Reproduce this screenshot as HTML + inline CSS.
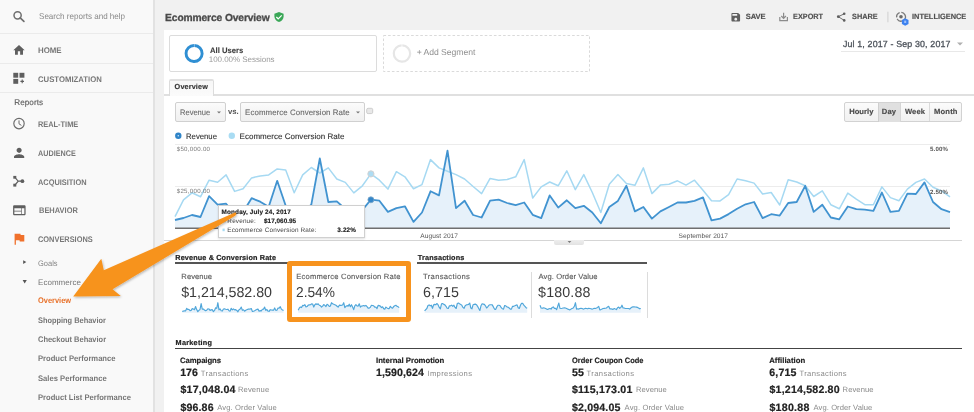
<!DOCTYPE html>
<html><head><meta charset="utf-8"><style>
*{margin:0;padding:0;box-sizing:border-box}
html,body{width:974px;height:412px;overflow:hidden;background:#fff}
body{position:relative;font-family:"Liberation Sans",Arial,sans-serif;text-rendering:geometricPrecision}
.t{position:absolute;white-space:nowrap;font-family:"Liberation Sans",Arial,sans-serif}
.a{position:absolute}
svg.ov{position:absolute;left:0;top:0}
</style></head><body>
<!-- sidebar -->
<div class="a" style="left:0;top:0;width:153px;height:412px;background:#f9f9f9"></div>
<div class="a" style="left:153px;top:0;width:2px;height:412px;background:#e2e2e2"></div>
<div class="a" style="left:0;top:33px;width:153px;height:1px;background:#ebebeb"></div>
<div class="a" style="left:0;top:63px;width:153px;height:1px;background:#ebebeb"></div>
<div class="a" style="left:0;top:92px;width:153px;height:1px;background:#ebebeb"></div>
<!-- main bg -->
<div class="a" style="left:155px;top:0;width:819px;height:412px;background:#f1f1f1"></div>
<div class="a" style="left:164px;top:30px;width:810px;height:382px;background:#fff"></div>
<!-- segment boxes -->
<div class="a" style="left:169px;top:35px;width:208px;height:37px;border:1px solid #dcdcdc;border-radius:2px;background:#fff"></div>
<div class="a" style="left:841px;top:51px;width:124px;height:1px;background:#e8e8e8"></div>
<!-- tab -->
<div class="a" style="left:164px;top:93.5px;width:810px;height:2px;background:#e0e0e0"></div>
<div class="a" style="left:169px;top:78.5px;width:45px;height:17.5px;border:1px solid #dcdcdc;border-top:2px solid #e0e0e0;border-bottom:none;background:linear-gradient(#f7f7f7,#fbfbfb);border-radius:2px 2px 0 0"></div>
<!-- dropdowns -->
<div class="a" style="left:175px;top:102px;width:51px;height:20px;border:1px solid #d0d0d0;border-radius:2px;background:linear-gradient(#fbfbfb,#f0f0f0)"></div>
<div class="a" style="left:240px;top:102px;width:125px;height:20px;border:1px solid #d0d0d0;border-radius:2px;background:linear-gradient(#fbfbfb,#f0f0f0)"></div>
<!-- hourly/day/week/month -->
<div class="a" style="left:844px;top:102px;width:118px;height:20px;border:1px solid #d2d2d2;border-radius:2px;background:linear-gradient(#fbfbfb,#f1f1f1)"></div>
<div class="a" style="left:878px;top:102.5px;width:23px;height:19px;background:#e0e0e0;border-left:1px solid #cfcfcf;border-right:1px solid #d6d6d6"></div>
<div class="a" style="left:929px;top:103px;width:1px;height:18px;background:#dadada"></div>
<!-- chart bottom -->
<div class="a" style="left:164px;top:240px;width:798px;height:1px;background:#d5d5d5"></div>
<div class="a" style="left:554.3px;top:240px;width:29.6px;height:4.8px;background:linear-gradient(#eeeeee,#e2e2e2);border-radius:0 0 2px 2px"></div>
<!-- scorecard headers -->
<div class="a" style="left:175px;top:262px;width:233px;height:1.6px;background:#555"></div>
<div class="a" style="left:417px;top:262px;width:230px;height:1.6px;background:#555"></div>
<div class="a" style="left:531px;top:272px;width:1px;height:46px;background:#dcdcdc"></div>
<div class="a" style="left:646.5px;top:272px;width:1px;height:46px;background:#dcdcdc"></div>
<div class="a" style="left:175px;top:347.8px;width:787px;height:1.4px;background:#444"></div>
<!-- orange box -->
<div class="a" style="left:287px;top:261px;width:124px;height:60.5px;border:5.8px solid #f7931e;border-radius:3px"></div>
<svg class="ov" width="974" height="412" viewBox="0 0 974 412">
<defs><filter id="sh" x="-10%" y="-10%" width="130%" height="140%"><feDropShadow dx="0.8" dy="1.2" stdDeviation="0.9" flood-color="#000" flood-opacity="0.28"/></filter></defs>

<line x1="175" y1="144.5" x2="950" y2="144.5" stroke="#ececec" stroke-width="1"/>
<line x1="175" y1="186.5" x2="950" y2="186.5" stroke="#ececec" stroke-width="1"/>
<path d="M175,228 L175.0,220.0 L183.5,218.0 L192.0,215.0 L200.5,217.0 L209.1,196.2 L217.6,204.7 L226.1,203.7 L234.6,214.0 L243.1,212.0 L251.6,198.2 L260.2,201.7 L268.7,206.7 L277.2,180.8 L285.7,205.7 L294.2,222.0 L302.7,212.0 L311.3,204.7 L319.8,158.5 L328.3,202.0 L336.8,201.4 L345.3,209.0 L353.8,215.0 L362.4,210.0 L370.9,199.6 L379.4,200.7 L387.9,211.9 L396.4,208.1 L404.9,206.3 L413.5,221.9 L422.0,212.5 L430.5,191.3 L439.0,195.4 L447.5,150.7 L456.0,208.1 L464.6,200.7 L473.1,215.0 L481.6,217.5 L490.1,200.7 L498.6,199.6 L507.1,203.0 L515.7,205.2 L524.2,202.5 L532.7,214.8 L541.2,218.1 L549.7,195.4 L558.2,207.6 L566.8,200.3 L575.3,208.1 L583.8,205.8 L592.3,212.5 L600.8,223.3 L609.3,207.0 L617.9,200.9 L626.4,185.8 L634.9,211.4 L643.4,207.0 L651.9,218.6 L660.4,211.4 L669.0,207.0 L677.5,202.5 L686.0,202.5 L694.5,200.9 L703.0,197.4 L711.5,220.4 L720.1,218.6 L728.6,214.1 L737.1,208.8 L745.6,204.3 L754.1,202.0 L762.6,218.1 L771.2,214.2 L779.7,215.6 L788.2,203.0 L796.7,202.0 L805.2,185.8 L813.7,211.9 L822.3,204.7 L830.8,217.5 L839.3,219.3 L847.8,206.5 L856.3,209.2 L864.8,209.7 L873.4,210.8 L881.9,192.5 L890.4,211.9 L898.9,210.8 L907.4,193.6 L915.9,194.0 L924.5,182.4 L933.0,202.0 L941.5,209.2 L950.0,212.1 L950,228 Z" fill="#e6f1fa"/>
<polyline points="175.0,216.7 183.5,199.8 192.0,192.8 200.5,196.8 209.1,180.2 217.6,182.2 226.1,174.9 234.6,191.4 243.1,188.8 251.6,177.9 260.2,175.9 268.7,174.9 277.2,168.9 285.7,169.9 294.2,192.8 302.7,174.9 311.3,167.5 319.8,173.0 328.3,167.9 336.8,179.0 345.3,182.4 353.8,192.9 362.4,185.8 370.9,173.9 379.4,180.2 387.9,189.1 396.4,171.7 404.9,176.8 413.5,188.7 422.0,184.6 430.5,159.6 439.0,167.9 447.5,171.2 456.0,174.6 464.6,179.0 473.1,186.5 481.6,193.6 490.1,178.4 498.6,180.2 507.1,179.5 515.7,176.8 524.2,159.6 532.7,198.0 541.2,186.9 549.7,182.0 558.2,185.8 566.8,170.8 575.3,189.6 583.8,174.6 592.3,192.5 600.8,212.5 609.3,184.2 617.9,174.6 626.4,183.5 634.9,185.3 643.4,167.9 651.9,193.6 660.4,185.1 669.0,184.2 677.5,180.8 686.0,185.1 694.5,180.2 703.0,190.2 711.5,200.7 720.1,200.9 728.6,194.7 737.1,179.0 745.6,180.8 754.1,183.1 762.6,194.0 771.2,192.5 779.7,205.0 788.2,179.7 796.7,182.0 805.2,185.8 813.7,196.5 822.3,190.9 830.8,204.7 839.3,208.8 847.8,193.1 856.3,199.2 864.8,204.7 873.4,204.7 881.9,186.9 890.4,197.6 898.9,200.7 907.4,189.1 915.9,182.4 924.5,179.0 933.0,187.3 941.5,190.9 950.0,196.9" fill="none" stroke="#a6d9f2" stroke-width="1.5" stroke-linejoin="round"/>
<polyline points="175.0,220.0 183.5,218.0 192.0,215.0 200.5,217.0 209.1,196.2 217.6,204.7 226.1,203.7 234.6,214.0 243.1,212.0 251.6,198.2 260.2,201.7 268.7,206.7 277.2,180.8 285.7,205.7 294.2,222.0 302.7,212.0 311.3,204.7 319.8,158.5 328.3,202.0 336.8,201.4 345.3,209.0 353.8,215.0 362.4,210.0 370.9,199.6 379.4,200.7 387.9,211.9 396.4,208.1 404.9,206.3 413.5,221.9 422.0,212.5 430.5,191.3 439.0,195.4 447.5,150.7 456.0,208.1 464.6,200.7 473.1,215.0 481.6,217.5 490.1,200.7 498.6,199.6 507.1,203.0 515.7,205.2 524.2,202.5 532.7,214.8 541.2,218.1 549.7,195.4 558.2,207.6 566.8,200.3 575.3,208.1 583.8,205.8 592.3,212.5 600.8,223.3 609.3,207.0 617.9,200.9 626.4,185.8 634.9,211.4 643.4,207.0 651.9,218.6 660.4,211.4 669.0,207.0 677.5,202.5 686.0,202.5 694.5,200.9 703.0,197.4 711.5,220.4 720.1,218.6 728.6,214.1 737.1,208.8 745.6,204.3 754.1,202.0 762.6,218.1 771.2,214.2 779.7,215.6 788.2,203.0 796.7,202.0 805.2,185.8 813.7,211.9 822.3,204.7 830.8,217.5 839.3,219.3 847.8,206.5 856.3,209.2 864.8,209.7 873.4,210.8 881.9,192.5 890.4,211.9 898.9,210.8 907.4,193.6 915.9,194.0 924.5,182.4 933.0,202.0 941.5,209.2 950.0,212.1" fill="none" stroke="#4193d0" stroke-width="1.8" stroke-linejoin="round"/>
<line x1="175" y1="228.3" x2="950" y2="228.3" stroke="#6f6f6f" stroke-width="1.6"/>
<circle cx="370.9" cy="173.9" r="3.1" fill="#addcf3" stroke="#d2d2d2" stroke-width="1"/>
<circle cx="370.9" cy="199.79999999999998" r="3.0" fill="#3486c9" stroke="#7aa6c8" stroke-width="0.8"/>

<path d="M182.20,312.7 L182.20,311.39 L183.31,311.14 L184.43,310.76 L185.54,311.01 L186.66,308.40 L187.77,309.47 L188.89,309.34 L190.00,310.63 L191.11,310.38 L192.23,308.65 L193.34,309.09 L194.46,309.72 L195.57,306.47 L196.69,309.59 L197.80,311.64 L198.91,310.38 L200.03,309.47 L201.14,303.68 L202.26,309.13 L203.37,309.05 L204.49,310.01 L205.60,310.76 L206.71,310.13 L207.83,308.83 L208.94,308.97 L210.06,310.37 L211.17,309.89 L212.29,309.67 L213.40,311.62 L214.51,310.45 L215.63,307.79 L216.74,308.30 L217.86,302.70 L218.97,309.89 L220.09,308.97 L221.20,310.76 L222.31,311.07 L223.43,308.97 L224.54,308.83 L225.66,309.26 L226.77,309.53 L227.89,309.19 L229.00,310.73 L230.11,311.15 L231.23,308.30 L232.34,309.83 L233.46,308.92 L234.57,309.89 L235.69,309.61 L236.80,310.45 L237.91,311.80 L239.03,309.76 L240.14,308.99 L241.26,307.10 L242.37,310.31 L243.49,309.76 L244.60,311.21 L245.71,310.31 L246.83,309.76 L247.94,309.19 L249.06,309.19 L250.17,308.99 L251.29,308.55 L252.40,311.44 L253.51,311.21 L254.63,310.65 L255.74,309.98 L256.86,309.42 L257.97,309.13 L259.09,311.15 L260.20,310.66 L261.31,310.83 L262.43,309.26 L263.54,309.13 L264.66,307.10 L265.77,310.37 L266.89,309.47 L268.00,311.07 L269.11,311.30 L270.23,309.69 L271.34,310.03 L272.46,310.10 L273.57,310.23 L274.69,307.94 L275.80,310.37 L276.91,310.23 L278.03,308.08 L279.14,308.13 L280.26,306.67 L281.37,309.13 L282.49,310.03 L283.60,310.40 L283.60,312.7 Z" fill="#e6f1fa"/><polyline points="182.20,311.39 183.31,311.14 184.43,310.76 185.54,311.01 186.66,308.40 187.77,309.47 188.89,309.34 190.00,310.63 191.11,310.38 192.23,308.65 193.34,309.09 194.46,309.72 195.57,306.47 196.69,309.59 197.80,311.64 198.91,310.38 200.03,309.47 201.14,303.68 202.26,309.13 203.37,309.05 204.49,310.01 205.60,310.76 206.71,310.13 207.83,308.83 208.94,308.97 210.06,310.37 211.17,309.89 212.29,309.67 213.40,311.62 214.51,310.45 215.63,307.79 216.74,308.30 217.86,302.70 218.97,309.89 220.09,308.97 221.20,310.76 222.31,311.07 223.43,308.97 224.54,308.83 225.66,309.26 226.77,309.53 227.89,309.19 229.00,310.73 230.11,311.15 231.23,308.30 232.34,309.83 233.46,308.92 234.57,309.89 235.69,309.61 236.80,310.45 237.91,311.80 239.03,309.76 240.14,308.99 241.26,307.10 242.37,310.31 243.49,309.76 244.60,311.21 245.71,310.31 246.83,309.76 247.94,309.19 249.06,309.19 250.17,308.99 251.29,308.55 252.40,311.44 253.51,311.21 254.63,310.65 255.74,309.98 256.86,309.42 257.97,309.13 259.09,311.15 260.20,310.66 261.31,310.83 262.43,309.26 263.54,309.13 264.66,307.10 265.77,310.37 266.89,309.47 268.00,311.07 269.11,311.30 270.23,309.69 271.34,310.03 272.46,310.10 273.57,310.23 274.69,307.94 275.80,310.37 276.91,310.23 278.03,308.08 279.14,308.13 280.26,306.67 281.37,309.13 282.49,310.03 283.60,310.40" fill="none" stroke="#4fa6da" stroke-width="1.15" stroke-linejoin="round"/><path d="M298.20,312.7 L298.20,310.20 L299.31,307.98 L300.42,307.06 L301.53,307.59 L302.64,305.41 L303.75,305.67 L304.86,304.71 L305.97,306.88 L307.08,306.54 L308.19,305.10 L309.30,304.84 L310.41,304.71 L311.52,303.92 L312.63,304.05 L313.74,307.06 L314.85,304.71 L315.96,303.74 L317.07,304.46 L318.18,303.79 L319.29,305.25 L320.40,305.69 L321.51,307.07 L322.62,306.14 L323.73,304.58 L324.84,305.41 L325.95,306.57 L327.06,304.29 L328.17,304.96 L329.28,306.52 L330.39,305.98 L331.50,302.70 L332.61,303.79 L333.72,304.22 L334.83,304.67 L335.94,305.25 L337.05,306.23 L338.16,307.17 L339.27,305.17 L340.38,305.41 L341.49,305.31 L342.60,304.96 L343.71,302.70 L344.82,307.74 L345.93,306.29 L347.04,305.64 L348.15,306.14 L349.25,304.17 L350.36,306.64 L351.47,304.67 L352.58,307.02 L353.69,309.65 L354.80,305.93 L355.91,304.67 L357.02,305.84 L358.13,306.08 L359.24,303.79 L360.35,307.17 L361.46,306.05 L362.57,305.93 L363.68,305.48 L364.79,306.05 L365.90,305.41 L367.01,306.72 L368.12,308.10 L369.23,308.12 L370.34,307.31 L371.45,305.25 L372.56,305.48 L373.67,305.79 L374.78,307.22 L375.89,307.02 L377.00,308.66 L378.11,305.34 L379.22,305.64 L380.33,306.14 L381.44,307.55 L382.55,306.81 L383.66,308.62 L384.77,309.16 L385.88,307.10 L386.99,307.90 L388.10,308.62 L389.21,308.62 L390.32,306.29 L391.43,307.69 L392.54,308.10 L393.65,306.57 L394.76,305.69 L395.87,305.25 L396.98,306.34 L398.09,306.81 L399.20,307.60 L399.20,312.7 Z" fill="#e6f1fa"/><polyline points="298.20,310.20 299.31,307.98 300.42,307.06 301.53,307.59 302.64,305.41 303.75,305.67 304.86,304.71 305.97,306.88 307.08,306.54 308.19,305.10 309.30,304.84 310.41,304.71 311.52,303.92 312.63,304.05 313.74,307.06 314.85,304.71 315.96,303.74 317.07,304.46 318.18,303.79 319.29,305.25 320.40,305.69 321.51,307.07 322.62,306.14 323.73,304.58 324.84,305.41 325.95,306.57 327.06,304.29 328.17,304.96 329.28,306.52 330.39,305.98 331.50,302.70 332.61,303.79 333.72,304.22 334.83,304.67 335.94,305.25 337.05,306.23 338.16,307.17 339.27,305.17 340.38,305.41 341.49,305.31 342.60,304.96 343.71,302.70 344.82,307.74 345.93,306.29 347.04,305.64 348.15,306.14 349.25,304.17 350.36,306.64 351.47,304.67 352.58,307.02 353.69,309.65 354.80,305.93 355.91,304.67 357.02,305.84 358.13,306.08 359.24,303.79 360.35,307.17 361.46,306.05 362.57,305.93 363.68,305.48 364.79,306.05 365.90,305.41 367.01,306.72 368.12,308.10 369.23,308.12 370.34,307.31 371.45,305.25 372.56,305.48 373.67,305.79 374.78,307.22 375.89,307.02 377.00,308.66 378.11,305.34 379.22,305.64 380.33,306.14 381.44,307.55 382.55,306.81 383.66,308.62 384.77,309.16 385.88,307.10 386.99,307.90 388.10,308.62 389.21,308.62 390.32,306.29 391.43,307.69 392.54,308.10 393.65,306.57 394.76,305.69 395.87,305.25 396.98,306.34 398.09,306.81 399.20,307.60" fill="none" stroke="#4fa6da" stroke-width="1.15" stroke-linejoin="round"/><path d="M424.60,312.7 L424.60,310.80 L425.73,309.60 L426.85,308.50 L427.98,305.50 L429.11,304.90 L430.24,305.80 L431.36,305.20 L432.49,308.30 L433.62,304.90 L434.75,304.40 L435.87,304.70 L437.00,303.50 L438.13,304.90 L439.26,307.40 L440.38,308.80 L441.51,303.80 L442.64,303.50 L443.77,304.40 L444.89,304.90 L446.02,306.30 L447.15,308.30 L448.28,308.50 L449.40,305.80 L450.53,305.80 L451.66,305.20 L452.79,306.30 L453.91,305.20 L455.04,307.40 L456.17,308.50 L457.30,303.50 L458.42,303.00 L459.55,303.80 L460.68,304.40 L461.81,305.20 L462.93,307.40 L464.06,308.30 L465.19,305.80 L466.32,304.90 L467.44,304.70 L468.57,304.40 L469.70,303.00 L470.83,308.00 L471.95,308.80 L473.08,304.70 L474.21,304.40 L475.34,304.10 L476.46,304.70 L477.59,306.30 L478.72,308.50 L479.85,310.50 L480.97,305.80 L482.10,303.80 L483.23,304.10 L484.36,304.40 L485.48,305.80 L486.61,308.00 L487.74,306.90 L488.87,305.20 L489.99,304.70 L491.12,304.70 L492.25,304.90 L493.38,306.90 L494.50,309.10 L495.63,309.40 L496.76,306.90 L497.89,305.20 L499.01,305.20 L500.14,305.80 L501.27,307.70 L502.40,308.80 L503.52,309.10 L504.65,305.50 L505.78,305.80 L506.91,306.90 L508.03,307.10 L509.16,308.00 L510.29,309.10 L511.42,309.10 L512.54,306.30 L513.67,306.30 L514.80,305.80 L515.93,305.20 L517.05,304.90 L518.18,307.70 L519.31,308.50 L520.44,305.20 L521.56,303.30 L522.69,303.30 L523.82,305.20 L524.95,306.30 L526.07,307.70 L527.20,308.30 L527.20,312.7 Z" fill="#e6f1fa"/><polyline points="424.60,310.80 425.73,309.60 426.85,308.50 427.98,305.50 429.11,304.90 430.24,305.80 431.36,305.20 432.49,308.30 433.62,304.90 434.75,304.40 435.87,304.70 437.00,303.50 438.13,304.90 439.26,307.40 440.38,308.80 441.51,303.80 442.64,303.50 443.77,304.40 444.89,304.90 446.02,306.30 447.15,308.30 448.28,308.50 449.40,305.80 450.53,305.80 451.66,305.20 452.79,306.30 453.91,305.20 455.04,307.40 456.17,308.50 457.30,303.50 458.42,303.00 459.55,303.80 460.68,304.40 461.81,305.20 462.93,307.40 464.06,308.30 465.19,305.80 466.32,304.90 467.44,304.70 468.57,304.40 469.70,303.00 470.83,308.00 471.95,308.80 473.08,304.70 474.21,304.40 475.34,304.10 476.46,304.70 477.59,306.30 478.72,308.50 479.85,310.50 480.97,305.80 482.10,303.80 483.23,304.10 484.36,304.40 485.48,305.80 486.61,308.00 487.74,306.90 488.87,305.20 489.99,304.70 491.12,304.70 492.25,304.90 493.38,306.90 494.50,309.10 495.63,309.40 496.76,306.90 497.89,305.20 499.01,305.20 500.14,305.80 501.27,307.70 502.40,308.80 503.52,309.10 504.65,305.50 505.78,305.80 506.91,306.90 508.03,307.10 509.16,308.00 510.29,309.10 511.42,309.10 512.54,306.30 513.67,306.30 514.80,305.80 515.93,305.20 517.05,304.90 518.18,307.70 519.31,308.50 520.44,305.20 521.56,303.30 522.69,303.30 523.82,305.20 524.95,306.30 526.07,307.70 527.20,308.30" fill="none" stroke="#4fa6da" stroke-width="1.15" stroke-linejoin="round"/><path d="M540.00,312.7 L540.00,305.20 L541.11,308.00 L542.22,308.30 L543.32,307.90 L544.43,308.00 L545.54,308.50 L546.65,309.10 L547.75,309.40 L548.86,308.80 L549.97,308.50 L551.08,309.10 L552.18,307.40 L553.29,306.90 L554.40,308.30 L555.51,308.30 L556.62,309.60 L557.72,306.30 L558.83,303.00 L559.94,308.30 L561.05,308.50 L562.15,308.30 L563.26,308.00 L564.37,307.90 L565.48,308.00 L566.58,308.50 L567.69,309.10 L568.80,309.40 L569.91,309.90 L571.02,309.10 L572.12,308.50 L573.23,308.00 L574.34,306.30 L575.45,302.70 L576.55,309.10 L577.66,308.80 L578.77,309.10 L579.88,308.50 L580.98,308.30 L582.09,308.50 L583.20,309.10 L584.31,308.80 L585.42,308.30 L586.52,308.50 L587.63,308.80 L588.74,308.30 L589.85,308.50 L590.95,308.80 L592.06,309.10 L593.17,308.80 L594.28,308.30 L595.38,308.50 L596.49,308.00 L597.60,307.40 L598.71,306.30 L599.82,309.90 L600.92,309.60 L602.03,309.10 L603.14,308.50 L604.25,308.40 L605.35,308.30 L606.46,308.00 L607.57,306.90 L608.68,306.30 L609.78,308.80 L610.89,308.80 L612.00,309.10 L613.11,309.40 L614.22,308.50 L615.32,309.10 L616.43,309.60 L617.54,307.70 L618.65,307.10 L619.75,308.30 L620.86,307.40 L621.97,305.20 L623.08,308.00 L624.18,308.00 L625.29,308.50 L626.40,308.50 L627.51,308.50 L628.62,308.50 L629.72,309.10 L630.83,308.00 L631.94,307.10 L633.05,306.90 L634.15,306.90 L635.26,307.00 L636.37,307.10 L637.48,307.40 L638.58,308.00 L639.69,308.80 L640.80,308.50 L640.80,312.7 Z" fill="#e6f1fa"/><polyline points="540.00,305.20 541.11,308.00 542.22,308.30 543.32,307.90 544.43,308.00 545.54,308.50 546.65,309.10 547.75,309.40 548.86,308.80 549.97,308.50 551.08,309.10 552.18,307.40 553.29,306.90 554.40,308.30 555.51,308.30 556.62,309.60 557.72,306.30 558.83,303.00 559.94,308.30 561.05,308.50 562.15,308.30 563.26,308.00 564.37,307.90 565.48,308.00 566.58,308.50 567.69,309.10 568.80,309.40 569.91,309.90 571.02,309.10 572.12,308.50 573.23,308.00 574.34,306.30 575.45,302.70 576.55,309.10 577.66,308.80 578.77,309.10 579.88,308.50 580.98,308.30 582.09,308.50 583.20,309.10 584.31,308.80 585.42,308.30 586.52,308.50 587.63,308.80 588.74,308.30 589.85,308.50 590.95,308.80 592.06,309.10 593.17,308.80 594.28,308.30 595.38,308.50 596.49,308.00 597.60,307.40 598.71,306.30 599.82,309.90 600.92,309.60 602.03,309.10 603.14,308.50 604.25,308.40 605.35,308.30 606.46,308.00 607.57,306.90 608.68,306.30 609.78,308.80 610.89,308.80 612.00,309.10 613.11,309.40 614.22,308.50 615.32,309.10 616.43,309.60 617.54,307.70 618.65,307.10 619.75,308.30 620.86,307.40 621.97,305.20 623.08,308.00 624.18,308.00 625.29,308.50 626.40,308.50 627.51,308.50 628.62,308.50 629.72,309.10 630.83,308.00 631.94,307.10 633.05,306.90 634.15,306.90 635.26,307.00 636.37,307.10 637.48,307.40 638.58,308.00 639.69,308.80 640.80,308.50" fill="none" stroke="#4fa6da" stroke-width="1.15" stroke-linejoin="round"/>
<!-- search -->
<circle cx="17.6" cy="15.3" r="3.6" fill="none" stroke="#6f6f6f" stroke-width="1.5"/>
<line x1="20.2" y1="17.9" x2="23.9" y2="21.3" stroke="#6f6f6f" stroke-width="1.7" stroke-linecap="round"/>
<!-- home -->
<path transform="translate(12.16,43.3) scale(0.57)" d="M10 20v-6h4v6h5v-8h3L12 3 2 12h3v8z" fill="#5f5f5f"/>
<!-- customization -->
<rect x="13.3" y="72.8" width="4.9" height="4.9" fill="#5f5f5f"/>
<rect x="19.5" y="72.8" width="4.9" height="4.9" fill="#5f5f5f"/>
<rect x="13.3" y="78.9" width="4.9" height="4.9" fill="#5f5f5f"/>
<path d="M22.2 79.6v3.6M20.4 81.4h3.6" stroke="#5f5f5f" stroke-width="1.1"/>
<!-- realtime clock -->
<circle cx="19" cy="123.6" r="5.2" fill="none" stroke="#6a6a6a" stroke-width="1.15"/>
<path d="M19 120.4v3.4l2.4 1.6" fill="none" stroke="#6a6a6a" stroke-width="1"/>
<!-- audience -->
<path transform="translate(11.44,145.2) scale(0.64)" d="M12 12c2.21 0 4-1.79 4-4s-1.79-4-4-4-4 1.79-4 4 1.79 4 4 4zm0 2c-2.67 0-8 1.34-8 4v2h16v-2c0-2.66-5.33-4-8-4z" fill="#5f5f5f"/>
<!-- acquisition -->
<rect x="13.3" y="175.9" width="3" height="2.8" fill="#5f5f5f"/>
<rect x="13.3" y="183.7" width="3" height="2.9" fill="#5f5f5f"/>
<path d="M15.5 178.2L18.2 181.2L15.5 184.3M18.2 181.2H21" fill="none" stroke="#5f5f5f" stroke-width="1.2"/>
<circle cx="22.4" cy="181.2" r="1.9" fill="#5f5f5f"/>
<!-- behavior -->
<path transform="translate(11.85,202.7) scale(0.625)" d="M20 4H4c-1.1 0-1.99.9-1.99 2L2 18c0 1.1.9 2 2 2h16c1.1 0 2-.9 2-2V6c0-1.1-.9-2-2-2zm-5 14H4v-4h11v4zm0-5H4V9h11v4zm5 5h-4V9h4v9z" fill="#5f5f5f"/>
<!-- conversions flag -->
<path transform="translate(11.37,231.1) scale(0.647)" d="M14.4 6L14 4H5v17h2v-7h5.6l.4 2h7V6z" fill="#f0712c"/>
<!-- goals / ecommerce triangles -->
<path d="M23.2 260.2L26.3 262.1L23.2 264z" fill="#555"/>
<path d="M22.6 280.1L26.8 280.1L24.7 283.5z" fill="#555"/>
<!-- shield -->
<path d="M279 11.9L283.6 13.8V16.6C283.6 19.2 281.6 21.4 279 22.1C276.4 21.4 274.4 19.2 274.4 16.6V13.8Z" fill="#3aa757"/>
<path d="M276.3 17L278.2 18.8L281.7 15.3" fill="none" stroke="#fff" stroke-width="1.2"/>
<!-- save -->
<path transform="translate(730,11.5) scale(0.48)" d="M17 3H5c-1.11 0-2 .9-2 2v14c0 1.1.89 2 2 2h14c1.1 0 2-.9 2-2V7l-4-4zm-5 16c-1.66 0-3-1.34-3-3s1.34-3 3-3 3 1.34 3 3-1.34 3-3 3zm3-10H5V5h10v4z" fill="#5f5f5f"/>
<!-- export -->
<path d="M783.6 12.8V18.2M781.3 16L783.6 18.4L785.9 16" fill="none" stroke="#8c8c8c" stroke-width="1.2"/>
<path d="M779.8 17V20.6H787.4V17" fill="none" stroke="#8c8c8c" stroke-width="1.2"/>
<!-- share -->
<path d="M838.3 16.7L844.2 13.8M838.3 16.7L844.2 20.4" stroke="#5f5f5f" stroke-width="0.9"/>
<circle cx="838.3" cy="16.7" r="1.4" fill="#5f5f5f"/>
<circle cx="844.2" cy="13.8" r="1.3" fill="#5f5f5f"/>
<circle cx="844.2" cy="20.4" r="1.3" fill="#5f5f5f"/>
<!-- separator -->
<rect x="887.4" y="11.7" width="1" height="10.6" fill="#d0d0d0"/>
<!-- intelligence -->
<circle cx="901" cy="16.8" r="4.4" fill="none" stroke="#7a7a7a" stroke-width="1.3" stroke-dasharray="6 1.6" transform="rotate(-30 901 16.8)"/>
<circle cx="901" cy="16.8" r="1.8" fill="#6a6a6a"/>
<path d="M905.2 18.2l3.3 1.9v3.8l-3.3 1.9l-3.3-1.9v-3.8z" fill="#3d82f0"/>
<path d="M904.2 20.6h2v2.4h-2z" fill="#9fc2fa"/>
<!-- segment circles -->
<circle cx="194.1" cy="53.5" r="8.05" fill="none" stroke="#2f8fd3" stroke-width="2.9" stroke-dasharray="49.8 0.8" transform="rotate(-88 194.1 53.5)"/>
<rect x="383.5" y="35.5" width="206" height="36" fill="none" stroke="#dadada" stroke-width="1" stroke-dasharray="2.6 2"/>
<circle cx="402" cy="53.5" r="8.2" fill="none" stroke="#e6e6e6" stroke-width="2.2" stroke-dasharray="50.5 1" transform="rotate(-88 402 53.5)"/>
<!-- date arrow -->
<path d="M957 42.6h6l-3 2.8z" fill="#b0b0b0"/>
<!-- dropdown arrows -->
<path d="M217 111.5h4l-2 2z" fill="#777"/>
<path d="M356 111.5h4l-2 2z" fill="#777"/>
<rect x="366.7" y="108.3" width="6" height="5.3" rx="1.4" fill="#e8e8e8" stroke="#cdcdcd" stroke-width="1"/>
<!-- legend dots -->
<circle cx="178.3" cy="135.7" r="3.2" fill="#2f84c8"/>
<circle cx="178.3" cy="135.7" r="0.8" fill="#cfe6f6"/>
<circle cx="231.8" cy="135.7" r="3.2" fill="#a9dcf3"/>
<!-- bottom handle arrow -->
<path d="M567.6 241.2h3.8l-1.9 1.5z" fill="#555"/>

</svg>
<!-- tooltip -->
<div class="a" style="left:218px;top:205px;width:147px;height:33px;border:1px solid #d0d0d0;background:#fff;box-shadow:0 1px 2px rgba(0,0,0,.12)"></div>
<span class="t" style="left:39.11px;top:12.08px;font-size:8.375px;line-height:8.375px;font-weight:400;color:#8a8a8a;transform:scaleX(0.9651);transform-origin:0 0">Search reports and help</span>
<span class="t" style="left:37.69px;top:46.69px;font-size:8.125px;line-height:8.125px;font-weight:700;color:#777;transform:scaleX(0.9710);transform-origin:0 0">HOME</span>
<span class="t" style="left:37.91px;top:75.89px;font-size:8.125px;line-height:8.125px;font-weight:700;color:#777;transform:scaleX(0.9541);transform-origin:0 0">CUSTOMIZATION</span>
<span class="t" style="left:14.29px;top:98.99px;font-size:8.125px;line-height:8.125px;font-weight:400;color:#606060;letter-spacing:0.052px;-webkit-text-stroke:0.15px #606060">Reports</span>
<span class="t" style="left:37.75px;top:120.99px;font-size:8.125px;line-height:8.125px;font-weight:700;color:#777;transform:scaleX(0.9116);transform-origin:0 0">REAL-TIME</span>
<span class="t" style="left:38.40px;top:149.59px;font-size:8.125px;line-height:8.125px;font-weight:700;color:#777;transform:scaleX(0.8906);transform-origin:0 0">AUDIENCE</span>
<span class="t" style="left:38.40px;top:178.69px;font-size:8.125px;line-height:8.125px;font-weight:700;color:#777;transform:scaleX(0.9129);transform-origin:0 0">ACQUISITION</span>
<span class="t" style="left:38.63px;top:207.19px;font-size:8.125px;line-height:8.125px;font-weight:700;color:#777;transform:scaleX(0.9198);transform-origin:0 0">BEHAVIOR</span>
<span class="t" style="left:38.40px;top:236.19px;font-size:8.125px;line-height:8.125px;font-weight:700;color:#777;transform:scaleX(0.9128);transform-origin:0 0">CONVERSIONS</span>
<span class="t" style="left:38.38px;top:259.80px;font-size:8.000px;line-height:8.000px;font-weight:400;color:#858585;transform:scaleX(0.9357);transform-origin:0 0">Goals</span>
<span class="t" style="left:38.05px;top:278.50px;font-size:8.000px;line-height:8.000px;font-weight:400;color:#767676;letter-spacing:0.029px">Ecommerce</span>
<span class="t" style="left:37.90px;top:297.39px;font-size:8.125px;line-height:8.125px;font-weight:700;color:#e8712a;transform:scaleX(0.9167);transform-origin:0 0">Overview</span>
<span class="t" style="left:38.01px;top:316.79px;font-size:8.125px;line-height:8.125px;font-weight:700;color:#767676;transform:scaleX(0.9126);transform-origin:0 0">Shopping Behavior</span>
<span class="t" style="left:37.90px;top:336.39px;font-size:8.125px;line-height:8.125px;font-weight:700;color:#767676;transform:scaleX(0.9208);transform-origin:0 0">Checkout Behavior</span>
<span class="t" style="left:37.82px;top:355.49px;font-size:8.125px;line-height:8.125px;font-weight:700;color:#767676;transform:scaleX(0.9398);transform-origin:0 0">Product Performance</span>
<span class="t" style="left:37.78px;top:374.99px;font-size:8.125px;line-height:8.125px;font-weight:700;color:#767676;transform:scaleX(0.9410);transform-origin:0 0">Sales Performance</span>
<span class="t" style="left:37.87px;top:393.69px;font-size:8.125px;line-height:8.125px;font-weight:700;color:#767676;transform:scaleX(0.9368);transform-origin:0 0">Product List Performance</span>
<span class="t" style="left:165.12px;top:13.69px;font-size:10.250px;line-height:10.250px;font-weight:700;color:#4a4a4a;letter-spacing:-0.119px;-webkit-text-stroke:0.3px #4a4a4a">Ecommerce Overview</span>
<span class="t" style="left:745.68px;top:13.42px;font-size:7.625px;line-height:7.625px;font-weight:700;color:#4f4f4f;letter-spacing:-0.109px;-webkit-text-stroke:0.15px #4f4f4f">SAVE</span>
<span class="t" style="left:793.33px;top:13.42px;font-size:7.625px;line-height:7.625px;font-weight:700;color:#4f4f4f;transform:scaleX(0.9609);transform-origin:0 0;-webkit-text-stroke:0.15px #4f4f4f">EXPORT</span>
<span class="t" style="left:851.67px;top:13.42px;font-size:7.625px;line-height:7.625px;font-weight:700;color:#4f4f4f;transform:scaleX(0.9631);transform-origin:0 0;-webkit-text-stroke:0.15px #4f4f4f">SHARE</span>
<span class="t" style="left:911.79px;top:13.42px;font-size:7.625px;line-height:7.625px;font-weight:700;color:#4f4f4f;transform:scaleX(0.9726);transform-origin:0 0;-webkit-text-stroke:0.15px #4f4f4f">INTELLIGENCE</span>
<span class="t" style="left:209.78px;top:46.60px;font-size:8.000px;line-height:8.000px;font-weight:700;color:#3c3c3c;transform:scaleX(0.9599);transform-origin:0 0;-webkit-text-stroke:0.1px #3c3c3c">All Users</span>
<span class="t" style="left:208.71px;top:55.70px;font-size:8.000px;line-height:8.000px;font-weight:400;color:#9a9a9a;letter-spacing:-0.025px">100.00% Sessions</span>
<span class="t" style="left:416.65px;top:47.87px;font-size:8.625px;line-height:8.625px;font-weight:400;color:#8f8f8f;letter-spacing:-0.029px">+ Add Segment</span>
<span class="t" style="left:842.92px;top:39.96px;font-size:8.875px;line-height:8.875px;font-weight:400;color:#4e545c;letter-spacing:0.146px;-webkit-text-stroke:0.3px #4e545c">Jul 1, 2017 - Sep 30, 2017</span>
<span class="t" style="left:174.60px;top:83.04px;font-size:7.250px;line-height:7.250px;font-weight:700;color:#333;letter-spacing:0.143px;-webkit-text-stroke:0.15px #333">Overview</span>
<span class="t" style="left:180.48px;top:108.81px;font-size:7.875px;line-height:7.875px;font-weight:400;color:#6b6b6b;transform:scaleX(0.9594);transform-origin:0 0;-webkit-text-stroke:0.12px #6b6b6b">Revenue</span>
<span class="t" style="left:228.00px;top:107.61px;font-size:7.750px;line-height:7.750px;font-weight:700;color:#555">vs.</span>
<span class="t" style="left:245.12px;top:108.81px;font-size:7.875px;line-height:7.875px;font-weight:400;color:#6b6b6b;letter-spacing:0.079px;-webkit-text-stroke:0.12px #6b6b6b">Ecommerce Conversion Rate</span>
<span class="t" style="left:185.73px;top:133.00px;font-size:8.000px;line-height:8.000px;font-weight:400;color:#333;transform:scaleX(0.9663);transform-origin:0 0;-webkit-text-stroke:0.12px #333">Revenue</span>
<span class="t" style="left:239.57px;top:133.00px;font-size:8.000px;line-height:8.000px;font-weight:400;color:#333;letter-spacing:0.018px;-webkit-text-stroke:0.12px #333">Ecommerce Conversion Rate</span>
<span class="t" style="left:849.14px;top:107.72px;font-size:7.625px;line-height:7.625px;font-weight:700;color:#4a4a4a;letter-spacing:0.033px;-webkit-text-stroke:0.15px #4a4a4a">Hourly</span>
<span class="t" style="left:881.84px;top:107.72px;font-size:7.625px;line-height:7.625px;font-weight:700;color:#4a4a4a;letter-spacing:0.078px;-webkit-text-stroke:0.15px #4a4a4a">Day</span>
<span class="t" style="left:905.00px;top:107.72px;font-size:7.625px;line-height:7.625px;font-weight:700;color:#4a4a4a;letter-spacing:0.074px;-webkit-text-stroke:0.15px #4a4a4a">Week</span>
<span class="t" style="left:934.06px;top:107.72px;font-size:7.625px;line-height:7.625px;font-weight:700;color:#4a4a4a;letter-spacing:0.150px;-webkit-text-stroke:0.15px #4a4a4a">Month</span>
<span class="t" style="left:176.71px;top:146.89px;font-size:6.125px;line-height:6.125px;font-weight:400;color:#777;letter-spacing:0.301px">$50,000.00</span>
<span class="t" style="left:176.71px;top:189.49px;font-size:6.125px;line-height:6.125px;font-weight:400;color:#777;letter-spacing:0.301px">$25,000.00</span>
<span class="t" style="left:930.00px;top:146.89px;font-size:6.125px;line-height:6.125px;font-weight:700;color:#555;letter-spacing:0.160px">5.00%</span>
<span class="t" style="left:930.00px;top:189.89px;font-size:6.125px;line-height:6.125px;font-weight:700;color:#555;letter-spacing:0.160px">2.50%</span>
<span class="t" style="left:420.37px;top:233.57px;font-size:6.625px;line-height:6.625px;font-weight:400;color:#555;letter-spacing:0.055px">August 2017</span>
<span class="t" style="left:678.56px;top:233.57px;font-size:6.625px;line-height:6.625px;font-weight:400;color:#555;letter-spacing:0.044px">September 2017</span>
<span class="t" style="left:221.61px;top:210.28px;font-size:6.375px;line-height:6.375px;font-weight:700;color:#222;letter-spacing:0.144px;-webkit-text-stroke:0.15px #222">Monday, July 24, 2017</span>
<span class="t" style="left:227.37px;top:219.28px;font-size:6.375px;line-height:6.375px;font-weight:400;color:#444;letter-spacing:0.176px">Revenue:</span>
<span class="t" style="left:264.00px;top:219.28px;font-size:6.375px;line-height:6.375px;font-weight:700;color:#222;letter-spacing:0.034px;-webkit-text-stroke:0.15px #222">$17,060.95</span>
<span class="t" style="left:227.37px;top:228.28px;font-size:6.375px;line-height:6.375px;font-weight:400;color:#444;letter-spacing:0.169px">Ecommerce Conversion Rate:</span>
<span class="t" style="left:337.36px;top:228.28px;font-size:6.375px;line-height:6.375px;font-weight:700;color:#222;letter-spacing:0.134px;-webkit-text-stroke:0.15px #222">3.22%</span>
<span class="t" style="left:175.28px;top:254.24px;font-size:7.250px;line-height:7.250px;font-weight:700;color:#222;letter-spacing:0.148px;-webkit-text-stroke:0.2px #222">Revenue &amp; Conversion Rate</span>
<span class="t" style="left:417.83px;top:254.24px;font-size:7.250px;line-height:7.250px;font-weight:700;color:#222;letter-spacing:0.155px;-webkit-text-stroke:0.2px #222">Transactions</span>
<span class="t" style="left:181.35px;top:272.82px;font-size:7.625px;line-height:7.625px;font-weight:400;color:#5a5a5a;letter-spacing:0.050px;-webkit-text-stroke:0.12px #5a5a5a">Revenue</span>
<span class="t" style="left:181.16px;top:286.19px;font-size:14.250px;line-height:14.250px;font-weight:400;color:#3a3a3a;letter-spacing:-0.026px">$1,214,582.80</span>
<span class="t" style="left:296.26px;top:272.92px;font-size:7.625px;line-height:7.625px;font-weight:400;color:#5a5a5a;letter-spacing:0.203px;-webkit-text-stroke:0.12px #5a5a5a">Ecommerce Conversion Rate</span>
<span class="t" style="left:296.00px;top:286.49px;font-size:14.250px;line-height:14.250px;font-weight:400;color:#3a3a3a;transform:scaleX(0.9639);transform-origin:0 0">2.54%</span>
<span class="t" style="left:423.05px;top:273.02px;font-size:7.625px;line-height:7.625px;font-weight:400;color:#5a5a5a;letter-spacing:0.318px;-webkit-text-stroke:0.12px #5a5a5a">Transactions</span>
<span class="t" style="left:423.04px;top:286.19px;font-size:14.250px;line-height:14.250px;font-weight:400;color:#3a3a3a;letter-spacing:0.051px">6,715</span>
<span class="t" style="left:538.52px;top:273.02px;font-size:7.625px;line-height:7.625px;font-weight:400;color:#5a5a5a;letter-spacing:0.092px;-webkit-text-stroke:0.12px #5a5a5a">Avg. Order Value</span>
<span class="t" style="left:538.09px;top:286.19px;font-size:14.250px;line-height:14.250px;font-weight:400;color:#3a3a3a;letter-spacing:0.148px">$180.88</span>
<span class="t" style="left:175.62px;top:338.54px;font-size:7.250px;line-height:7.250px;font-weight:700;color:#222;letter-spacing:0.267px;-webkit-text-stroke:0.2px #222">Marketing</span>
<span class="t" style="left:180.00px;top:357.01px;font-size:7.750px;line-height:7.750px;font-weight:700;color:#222;letter-spacing:-0.094px;-webkit-text-stroke:0.15px #222">Campaigns</span>
<span class="t" style="left:180.13px;top:367.97px;font-size:10.625px;line-height:10.625px;font-weight:700;color:#222;letter-spacing:0.059px;-webkit-text-stroke:0.2px #222">176</span>
<span class="t" style="left:200.87px;top:369.52px;font-size:7.625px;line-height:7.625px;font-weight:400;color:#8a8a8a;letter-spacing:0.375px">Transactions</span>
<span class="t" style="left:180.47px;top:385.07px;font-size:10.625px;line-height:10.625px;font-weight:700;color:#222;letter-spacing:0.203px;-webkit-text-stroke:0.2px #222">$17,048.04</span>
<span class="t" style="left:237.94px;top:386.32px;font-size:7.625px;line-height:7.625px;font-weight:400;color:#8a8a8a;letter-spacing:0.126px">Revenue</span>
<span class="t" style="left:180.47px;top:402.97px;font-size:10.625px;line-height:10.625px;font-weight:700;color:#222;letter-spacing:0.125px;-webkit-text-stroke:0.2px #222">$96.86</span>
<span class="t" style="left:217.29px;top:404.32px;font-size:7.625px;line-height:7.625px;font-weight:400;color:#8a8a8a;letter-spacing:0.119px">Avg. Order Value</span>
<span class="t" style="left:376.05px;top:356.91px;font-size:7.750px;line-height:7.750px;font-weight:700;color:#222;letter-spacing:-0.041px;-webkit-text-stroke:0.15px #222">Internal Promotion</span>
<span class="t" style="left:375.96px;top:368.07px;font-size:10.625px;line-height:10.625px;font-weight:700;color:#222;letter-spacing:0.105px;-webkit-text-stroke:0.2px #222">1,590,624</span>
<span class="t" style="left:427.44px;top:369.52px;font-size:7.625px;line-height:7.625px;font-weight:400;color:#8a8a8a;letter-spacing:0.348px">Impressions</span>
<span class="t" style="left:572.00px;top:356.91px;font-size:7.750px;line-height:7.750px;font-weight:700;color:#222;transform:scaleX(0.9644);transform-origin:0 0;-webkit-text-stroke:0.15px #222">Order Coupon Code</span>
<span class="t" style="left:572.00px;top:368.07px;font-size:10.625px;line-height:10.625px;font-weight:700;color:#222;letter-spacing:-0.007px;-webkit-text-stroke:0.2px #222">55</span>
<span class="t" style="left:586.52px;top:369.52px;font-size:7.625px;line-height:7.625px;font-weight:400;color:#8a8a8a;letter-spacing:0.383px">Transactions</span>
<span class="t" style="left:572.00px;top:385.07px;font-size:10.625px;line-height:10.625px;font-weight:700;color:#222;letter-spacing:0.193px;-webkit-text-stroke:0.2px #222">$115,173.01</span>
<span class="t" style="left:635.94px;top:386.32px;font-size:7.625px;line-height:7.625px;font-weight:400;color:#8a8a8a;letter-spacing:0.070px">Revenue</span>
<span class="t" style="left:572.00px;top:402.97px;font-size:10.625px;line-height:10.625px;font-weight:700;color:#222;letter-spacing:0.148px;-webkit-text-stroke:0.2px #222">$2,094.05</span>
<span class="t" style="left:624.60px;top:404.32px;font-size:7.625px;line-height:7.625px;font-weight:400;color:#8a8a8a;letter-spacing:0.123px">Avg. Order Value</span>
<span class="t" style="left:769.28px;top:356.91px;font-size:7.750px;line-height:7.750px;font-weight:700;color:#222;letter-spacing:0.012px;-webkit-text-stroke:0.15px #222">Affiliation</span>
<span class="t" style="left:769.35px;top:368.07px;font-size:10.625px;line-height:10.625px;font-weight:700;color:#222;letter-spacing:0.123px;-webkit-text-stroke:0.2px #222">6,715</span>
<span class="t" style="left:799.52px;top:369.52px;font-size:7.625px;line-height:7.625px;font-weight:400;color:#8a8a8a;letter-spacing:0.346px">Transactions</span>
<span class="t" style="left:769.47px;top:385.07px;font-size:10.625px;line-height:10.625px;font-weight:700;color:#222;letter-spacing:0.191px;-webkit-text-stroke:0.2px #222">$1,214,582.80</span>
<span class="t" style="left:842.62px;top:386.32px;font-size:7.625px;line-height:7.625px;font-weight:400;color:#8a8a8a;letter-spacing:0.070px">Revenue</span>
<span class="t" style="left:769.47px;top:402.97px;font-size:10.625px;line-height:10.625px;font-weight:700;color:#222;letter-spacing:0.245px;-webkit-text-stroke:0.2px #222">$180.88</span>
<span class="t" style="left:813.60px;top:404.32px;font-size:7.625px;line-height:7.625px;font-weight:400;color:#8a8a8a;letter-spacing:0.068px">Avg. Order Value</span>
<svg class="ov" width="974" height="412" viewBox="0 0 974 412" style="pointer-events:none">
<rect x="222.5" y="228.6" width="2.2" height="2.6" fill="#a9dcf3"/><rect x="223" y="220.6" width="2.4" height="1.6" fill="#2f84c8"/><polygon points="235.6,212.3 103.8,270.2 101.3,258.7 73.2,296.4 120.8,296 112.6,289.2 235.2,215.8 236.4,214" fill="#f7931e" filter="url(#sh)"/>
</svg>
</body></html>
